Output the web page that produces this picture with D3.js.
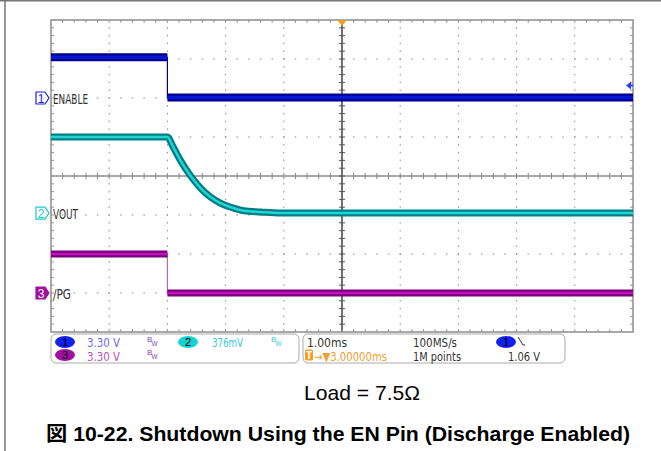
<!DOCTYPE html>
<html><head><meta charset="utf-8">
<script src="https://cdn.jsdelivr.net/npm/d3@7"></script>
<style>
html,body{margin:0;padding:0;background:#fff;}
svg{display:block;}
</style></head>
<body>
<svg id="c" width="661" height="451"></svg>
<script>
// ---- data ----
const enTime   = [-2, 0, 0, 8];
const enVolt   = [3.45, 3.45, 0.05, 0.05];
const voutTime = [-2, 0, 0.10, 0.22, 0.40, 0.57, 0.74, 0.91, 1.08, 1.31, 1.60, 1.94, 8];
const voutVolt = [0.733, 0.733, 0.636, 0.511, 0.357, 0.241, 0.154, 0.096, 0.058, 0.022, 0.010, 0.0, 0.0];
const pgTime   = [-2, 0, 0, 8];
const pgVolt   = [3.3, 3.3, 0.0, 0.0];
const channelNames  = ["ENABLE", "VOUT", "/PG"];
const channelNums   = ["1", "2", "3"];
const channelScales = [3.30, 0.376, 3.30];      // V/div
const channelOffsets= [2, -0.95, -3];           // ground position in divisions
const timeDomain = [-2, 8];                     // ms, trigger at 0
const hDivs = 10, vDivs = 8;
const statusRow1 = ["3.30 V", "376mV"];
const statusRow2 = ["3.30 V"];
const timebase = "1.00ms", sampleRate = "100MS/s", recordLen = "1M points", trigLevel = "1.06 V", trigDelay = "\u2192\u25BC3.00000ms";
const captionLoad = "Load = 7.5\u03A9";
const captionTitle = "\u56F3 10-22. Shutdown Using the EN Pin (Discharge Enabled)";

// ---- layout ----
const svg = d3.select("#c");
const L = 51, R = 633, T = 20, B = 332;
const x = d3.scaleLinear().domain(timeDomain).range([L, R]);
const yDiv = d3.scaleLinear().domain([-vDivs/2, vDivs/2]).range([B, T]);
const dx = (R - L) / hDivs, dy = (B - T) / vDivs;
const xc = (L + R) / 2, yc = (T + B) / 2;

// outer frame (left & top)
svg.append("line").attr("x1",5).attr("x2",5).attr("y1",0).attr("y2",451).attr("stroke","#777").attr("stroke-width",1.5);
svg.append("line").attr("x1",0).attr("x2",661).attr("y1",0.75).attr("y2",0.75).attr("stroke","#777").attr("stroke-width",1.5);

const grid = svg.append("g");
for (let i = 1; i < hDivs; i++) {
  if (i === hDivs/2) continue;
  const gx = L + i*dx;
  for (let k = 1; k < vDivs*5; k++) {
    grid.append("rect").attr("x", gx-0.5).attr("y", T + k*dy/5 - 0.75).attr("width",1).attr("height",1.5).attr("fill","#8a8a8a");
  }
}
for (let j = 1; j < vDivs; j++) {
  if (j === vDivs/2) continue;
  const gy = T + j*dy;
  for (let k = 1; k < hDivs*5; k++) {
    grid.append("rect").attr("x", L + k*dx/5 - 0.75).attr("y", gy-0.5).attr("width",1.5).attr("height",1).attr("fill","#8a8a8a");
  }
}
grid.append("line").attr("x1",L).attr("x2",R).attr("y1",yc).attr("y2",yc).attr("stroke","#8c8c8c").attr("stroke-width",1.5);
grid.append("line").attr("x1",xc).attr("x2",xc).attr("y1",T).attr("y2",B).attr("stroke","#222").attr("stroke-width",1.3);
for (let k = 1; k < hDivs*5; k++) {
  const tx = L + k*dx/5;
  grid.append("line").attr("x1",tx).attr("x2",tx).attr("y1",yc-3).attr("y2",yc+3).attr("stroke","#888").attr("stroke-width",1);
  grid.append("line").attr("x1",tx).attr("x2",tx).attr("y1",T).attr("y2",T+3).attr("stroke","#999").attr("stroke-width",1);
  grid.append("line").attr("x1",tx).attr("x2",tx).attr("y1",B-3).attr("y2",B).attr("stroke","#999").attr("stroke-width",1);
}
for (let k = 1; k < vDivs*5; k++) {
  const ty = T + k*dy/5;
  grid.append("line").attr("x1",xc-3).attr("x2",xc+3).attr("y1",ty).attr("y2",ty).attr("stroke","#555").attr("stroke-width",1);
  grid.append("line").attr("x1",L).attr("x2",L+3).attr("y1",ty).attr("y2",ty).attr("stroke","#999").attr("stroke-width",1);
  grid.append("line").attr("x1",R-3).attr("x2",R).attr("y1",ty).attr("y2",ty).attr("stroke","#999").attr("stroke-width",1);
}
svg.append("rect").attr("x",L).attr("y",T).attr("width",R-L).attr("height",B-T).attr("fill","none").attr("stroke","#8c8c8c").attr("stroke-width",1.5);

// ---- traces ----
const traces = [
  {t: enTime, v: enVolt, ch: 0, edge:"#000090", core:"#0818d0", thin:"#000090", w:8},
  {t: voutTime, v: voutVolt, ch: 1, edge:"#007e84", core:"#22d4d4", thin:"#008888", w:7},
  {t: pgTime, v: pgVolt, ch: 2, edge:"#780078", core:"#c010c0", thin:"#b070b0", w:7}
];
const tg = svg.append("g");
traces.forEach(tr => {
  const yOf = (v) => yDiv(channelOffsets[tr.ch] + v / channelScales[tr.ch]);
  const pts = tr.t.map((t,i) => [x(t), yOf(tr.v[i])]);
  const runs = []; let cur = [pts[0]];
  for (let i = 1; i < pts.length; i++) {
    if (tr.t[i] === tr.t[i-1]) {
      tg.append("line").attr("x1",pts[i-1][0]).attr("x2",pts[i][0]).attr("y1",pts[i-1][1]).attr("y2",pts[i][1])
        .attr("stroke",tr.thin).attr("stroke-width",1.2);
      runs.push(cur); cur = [pts[i]];
    } else cur.push(pts[i]);
  }
  runs.push(cur);
  const line = d3.line().curve(d3.curveMonotoneX);
  runs.forEach(r => {
    tg.append("path").attr("d", line(r)).attr("fill","none").attr("stroke",tr.edge).attr("stroke-width",tr.w);
    tg.append("path").attr("d", line(r)).attr("fill","none").attr("stroke",tr.core).attr("stroke-width",tr.w-4.5);
  });
});

// trigger markers
svg.append("path").attr("d", `M${xc-5},${T} L${xc+5},${T} L${xc},${T+6} Z`).attr("fill","#f0a020");
const trigY = yDiv(channelOffsets[0] + 1.06/channelScales[0]);
svg.append("path").attr("d", `M${R-7},${trigY} L${R-2},${trigY-4} L${R-2},${trigY+4} Z`).attr("fill","#2a3cff");
svg.append("line").attr("x1",R-3).attr("x2",R).attr("y1",trigY).attr("y2",trigY).attr("stroke","#2a3cff").attr("stroke-width",2);

// channel markers & labels
const markerStyles = [
  {fill:"#fff", stroke:"#2020e0", text:"#2020e0"},
  {fill:"#fff", stroke:"#20c8d0", text:"#20c8d0"},
  {fill:"#a010a0", stroke:"#a010a0", text:"#fff"}
];
const labelFont = "'Liberation Sans Narrow','DejaVu Sans Condensed','Liberation Sans',sans-serif";
const labelWidths = [35, 25, 18];
channelNames.forEach((name, i) => {
  const gy = yDiv(channelOffsets[i]);
  const s = markerStyles[i];
  svg.append("path").attr("d", `M${36},${gy-6} L${45},${gy-6} L${49},${gy} L${45},${gy+6} L${36},${gy+6} Z`)
    .attr("fill", s.fill).attr("stroke", s.stroke).attr("stroke-width",1.2);
  svg.append("text").attr("x",41).attr("y",gy+4.5).attr("text-anchor","middle").attr("font-family","'Liberation Sans',sans-serif")
    .attr("font-size",12).attr("fill",s.text).text(channelNums[i]);
  svg.append("text").attr("x",53).attr("y",gy+5.5).attr("font-family",labelFont).attr("font-size",14.5)
    .attr("fill","#333").attr("textLength",labelWidths[i]).attr("lengthAdjust","spacingAndGlyphs").text(name);
});

// ---- status bar ----
const sb = svg.append("g").attr("font-family",labelFont).attr("font-size",12.5);
sb.append("rect").attr("x",51).attr("y",334).attr("width",248).attr("height",29).attr("rx",5).attr("fill","#fff").attr("stroke","#aaa");
sb.append("rect").attr("x",303).attr("y",334).attr("width",262).attr("height",29).attr("rx",5).attr("fill","#fff").attr("stroke","#aaa");
function badge(cx, cy, fill, label) {
  sb.append("ellipse").attr("cx",cx).attr("cy",cy).attr("rx",10).attr("ry",6).attr("fill",fill);
  sb.append("text").attr("x",cx).attr("y",cy+4).attr("text-anchor","middle").attr("font-family","'Liberation Sans',sans-serif")
    .attr("font-size",11).attr("fill","#000").text(label);
}
function bw(xx, yy, col) {
  sb.append("text").attr("x",xx).attr("y",yy-1).attr("font-family","'Liberation Sans',sans-serif").attr("font-size",8).attr("fill",col).text("B");
  sb.append("text").attr("x",xx+4.5).attr("y",yy+2.5).attr("font-family","'Liberation Sans',sans-serif").attr("font-size",6.5).attr("fill",col).text("W");
}
function txt(xx, yy, s, col, w) {
  const t = sb.append("text").attr("x",xx).attr("y",yy).attr("fill",col).text(s);
  if (w) t.attr("textLength",w).attr("lengthAdjust","spacingAndGlyphs");
}
const r1 = 347, r2 = 360.5;
badge(65, 342, "#1020f0", "1");
txt(87, r1, statusRow1[0], "#6a6af0", 33);
bw(147, 343, "#7a50d0");
badge(188, 342, "#12d2d2", "2");
txt(212, r1, statusRow1[1], "#38c8d8", 31);
bw(271, 343, "#40c8d8");
badge(65, 355, "#a010a0", "3");
txt(87, r2, statusRow2[0], "#c050c0", 33);
bw(147, 356, "#9040b0");

txt(307, r1, timebase, "#333", 40);
txt(413, r1, sampleRate, "#333", 44);
badge(506, 342, "#1020f0", "1");
sb.append("path").attr("d","M518,337 L523,345 L525,345").attr("fill","none").attr("stroke","#333").attr("stroke-width",1);
sb.append("rect").attr("x",305).attr("y",349.5).attr("width",8).attr("height",11).attr("rx",1.5).attr("fill","#f4a020");
sb.append("text").attr("x",309).attr("y",359).attr("text-anchor","middle").attr("font-family","'Liberation Sans',sans-serif")
  .attr("font-size",10).attr("font-weight","bold").attr("fill","#fff").text("T");
txt(314, r2, trigDelay, "#f0a030", 73);
txt(413, r2, recordLen, "#333", 48);
txt(508, r2, trigLevel, "#333", 32);

// ---- captions ----
svg.append("text").attr("x",362).attr("y",400).attr("text-anchor","middle").attr("font-family","'Liberation Sans',Arial,sans-serif")
  .attr("font-size",21).attr("fill","#000").attr("textLength",116).attr("lengthAdjust","spacingAndGlyphs").text(captionLoad);
svg.append("text").attr("x",46).attr("y",441).attr("font-family","'Liberation Sans','Noto Sans CJK JP',sans-serif")
  .attr("font-size",20).attr("font-weight","bold").attr("fill","#000").attr("textLength",584).attr("lengthAdjust","spacingAndGlyphs").text(captionTitle);
</script>
</body></html>
